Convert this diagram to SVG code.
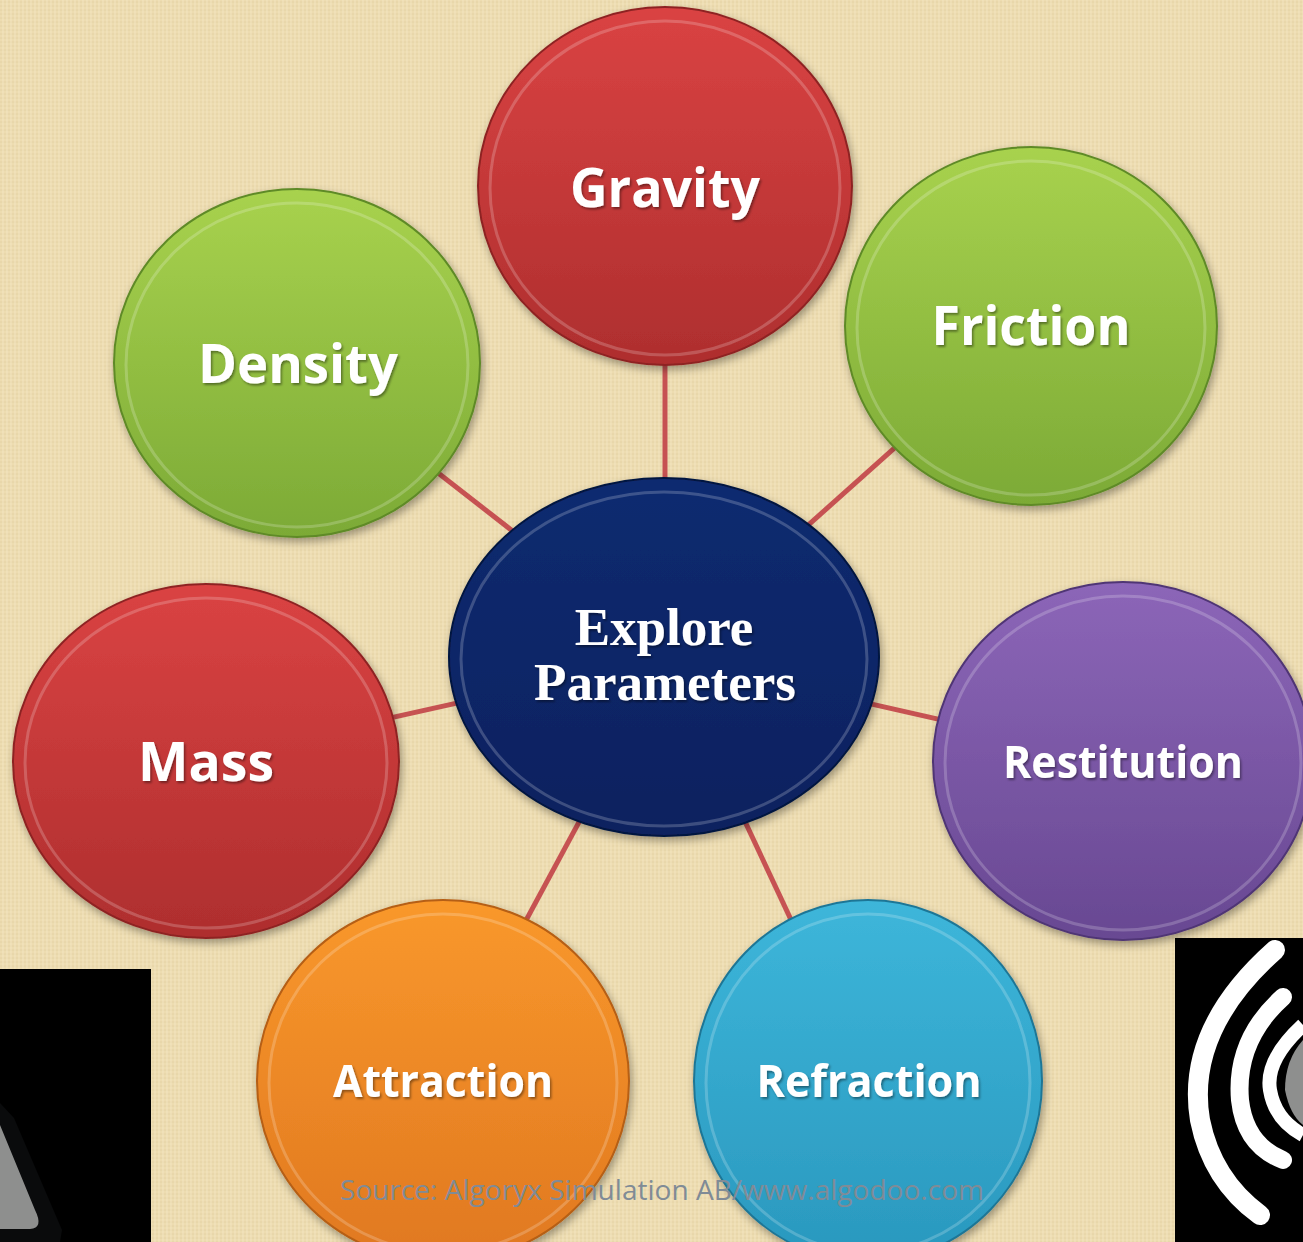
<svg xmlns="http://www.w3.org/2000/svg" width="1303" height="1242" viewBox="0 0 1303 1242">
<style>
.lbl{font-family:"Open Sans","Liberation Sans",sans-serif;font-weight:700;fill:#fff;text-anchor:middle;filter:url(#ts)}
.ctr{font-family:"Liberation Serif","Times New Roman",serif;font-weight:700;fill:#fff;text-anchor:middle;filter:url(#ts)}
.rim{fill:none;stroke:#fff;stroke-opacity:0.2;stroke-width:3}
.edge{stroke-width:2}
.conn{stroke:#C65252;stroke-width:5;fill:none}
</style>
<defs>
<pattern id="tex" width="8" height="8" patternUnits="userSpaceOnUse">
<rect width="8" height="8" fill="#EDDCB0"/>
<path d="M0 2H8M0 6H8" stroke="#E0CC9C" stroke-width="1" opacity="0.6"/>
<path d="M3 0V8M7 0V8" stroke="#F5E9C8" stroke-width="1" opacity="0.7"/>
</pattern>
<filter id="ds" x="-10%" y="-10%" width="120%" height="125%">
<feDropShadow dx="2" dy="4" stdDeviation="4" flood-color="#000" flood-opacity="0.35"/>
</filter>
<filter id="ts" x="-10%" y="-20%" width="120%" height="150%">
<feDropShadow dx="1.5" dy="2" stdDeviation="1.2" flood-color="#000" flood-opacity="0.4"/>
</filter>
<linearGradient id="gRed" x1="0" y1="0" x2="0" y2="1"><stop offset="0" stop-color="#DA4343"/><stop offset="1" stop-color="#AE2E2E"/></linearGradient>
<linearGradient id="gGreen" x1="0" y1="0" x2="0" y2="1"><stop offset="0" stop-color="#A8D24E"/><stop offset="1" stop-color="#7CAA36"/></linearGradient>
<linearGradient id="gPurple" x1="0" y1="0" x2="0" y2="1"><stop offset="0" stop-color="#8C66B8"/><stop offset="1" stop-color="#684892"/></linearGradient>
<linearGradient id="gOrange" x1="0" y1="0" x2="0" y2="1"><stop offset="0" stop-color="#F9982C"/><stop offset="1" stop-color="#E07820"/></linearGradient>
<linearGradient id="gBlue" x1="0" y1="0" x2="0" y2="1"><stop offset="0" stop-color="#3DB6DA"/><stop offset="1" stop-color="#2A98BE"/></linearGradient>
<linearGradient id="gNavy" x1="0" y1="0" x2="0" y2="1"><stop offset="0" stop-color="#0F2B70"/><stop offset="1" stop-color="#0A215F"/></linearGradient>
</defs>

<rect width="1303" height="1242" fill="url(#tex)"/>

<g id="img-left">
<rect x="0" y="969" width="151" height="273" fill="#000"/>
<path d="M0 1103 L14 1118 L62 1230 L60 1242 L0 1242 Z" fill="#0a0b0c"/>
<path d="M0 1125 L35 1210 Q44 1228 30 1229 L0 1229 Z" fill="#8E8F8E"/>
</g>
<g id="img-right">
<rect x="1175" y="938" width="128" height="304" fill="#000"/>
<path d="M1275 950 Q1185 1030 1200 1120 Q1212 1180 1260 1215" fill="none" stroke="#fff" stroke-width="20" stroke-linecap="round"/>
<path d="M1283 997 Q1235 1040 1240 1100 Q1245 1145 1283 1160" fill="none" stroke="#fff" stroke-width="18" stroke-linecap="round"/>
<path d="M1303 1025 Q1265 1060 1270 1090 Q1275 1120 1303 1135" fill="none" stroke="#fff" stroke-width="14"/>
<path d="M1303 1040 Q1285 1060 1285 1090 Q1290 1115 1303 1125 Z" fill="#8E8F8E"/>
</g>

<g id="connectors">
<line class="conn" x1="665" y1="186" x2="665" y2="657"/>
<line class="conn" x1="1031" y1="326" x2="664" y2="654"/>
<line class="conn" x1="297" y1="363" x2="664" y2="649"/>
<line class="conn" x1="206" y1="759" x2="664" y2="657"/>
<line class="conn" x1="1123" y1="761" x2="664" y2="657"/>
<line class="conn" x1="440" y1="1080" x2="668" y2="657"/>
<line class="conn" x1="866" y1="1080" x2="668" y2="657"/>
</g>

<g id="gravity">
<ellipse cx="665" cy="186" rx="187" ry="179" fill="url(#gRed)" stroke="#8E2424" class="edge" filter="url(#ds)"/>
<ellipse cx="665" cy="188" rx="175" ry="167" class="rim"/>
<text class="lbl" x="665" y="207" font-size="54" textLength="190" lengthAdjust="spacingAndGlyphs">Gravity</text>
</g>
<g id="friction">
<ellipse cx="1031" cy="326" rx="186" ry="179" fill="url(#gGreen)" stroke="#5E8A28" class="edge" filter="url(#ds)"/>
<ellipse cx="1031" cy="328" rx="174" ry="167" class="rim"/>
<text class="lbl" x="1031" y="345" font-size="54" textLength="199" lengthAdjust="spacingAndGlyphs">Friction</text>
</g>
<g id="density">
<ellipse cx="297" cy="363" rx="183" ry="174" fill="url(#gGreen)" stroke="#5E8A28" class="edge" filter="url(#ds)"/>
<ellipse cx="297" cy="365" rx="171" ry="162" class="rim"/>
<text class="lbl" x="298" y="383" font-size="54" textLength="200" lengthAdjust="spacingAndGlyphs">Density</text>
</g>
<g id="mass">
<ellipse cx="206" cy="761" rx="193" ry="177" fill="url(#gRed)" stroke="#8E2424" class="edge" filter="url(#ds)"/>
<ellipse cx="206" cy="763" rx="181" ry="165" class="rim"/>
<text class="lbl" x="206" y="781" font-size="54" textLength="136" lengthAdjust="spacingAndGlyphs">Mass</text>
</g>
<g id="restitution">
<ellipse cx="1123" cy="761" rx="190" ry="179" fill="url(#gPurple)" stroke="#4F3574" class="edge" filter="url(#ds)"/>
<ellipse cx="1123" cy="763" rx="178" ry="167" class="rim"/>
<text class="lbl" x="1123" y="778" font-size="45" textLength="240" lengthAdjust="spacingAndGlyphs">Restitution</text>
</g>
<g id="attraction">
<ellipse cx="443" cy="1081" rx="186" ry="181" fill="url(#gOrange)" stroke="#B55E14" class="edge" filter="url(#ds)"/>
<ellipse cx="443" cy="1083" rx="174" ry="169" class="rim"/>
<text class="lbl" x="443" y="1097" font-size="45" textLength="220" lengthAdjust="spacingAndGlyphs">Attraction</text>
</g>
<g id="refraction">
<ellipse cx="868" cy="1081" rx="174" ry="181" fill="url(#gBlue)" stroke="#1F7696" class="edge" filter="url(#ds)"/>
<ellipse cx="868" cy="1083" rx="162" ry="169" class="rim"/>
<text class="lbl" x="869" y="1097" font-size="45" textLength="225" lengthAdjust="spacingAndGlyphs">Refraction</text>
</g>
<g id="center">
<ellipse cx="664" cy="657" rx="215" ry="179" fill="url(#gNavy)" stroke="#061640" class="edge" filter="url(#ds)"/>
<ellipse cx="664" cy="659" rx="203" ry="167" class="rim" stroke-opacity="0.14"/>
<text class="ctr" x="664" y="645" font-size="53">Explore</text>
<text class="ctr" x="665" y="700" font-size="53">Parameters</text>
</g>

<text x="662" y="1200" font-family="'Open Sans','Liberation Sans',sans-serif" font-size="27" fill="#808B96" text-anchor="middle" textLength="644" lengthAdjust="spacingAndGlyphs">Source: Algoryx Simulation AB/www.algodoo.com</text>
</svg>
